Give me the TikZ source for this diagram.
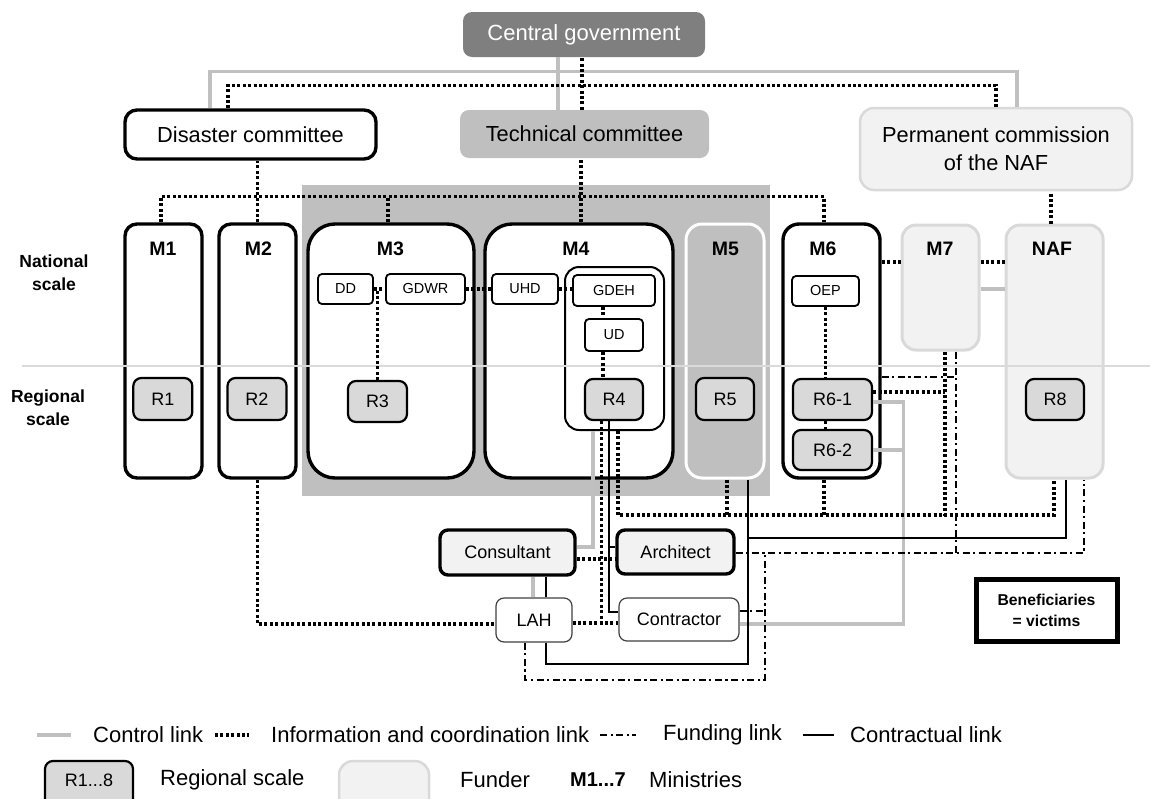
\documentclass[tikz,border=0pt]{standalone}
\usepackage{fontspec}
\setmainfont{Liberation Sans}
\usetikzlibrary{positioning}
\definecolor{cgfill}{HTML}{7F7F7F}
\definecolor{midgray}{HTML}{BFBFBF}
\definecolor{regionfill}{HTML}{D9D9D9}
\definecolor{funderfill}{HTML}{F2F2F2}
\definecolor{funderline}{HTML}{D9D9D9}
\definecolor{ctrlgray}{HTML}{C0C0C0}
\definecolor{scaleline}{HTML}{DADADA}
\tikzset{
    %Define box size
    boxsize/.style 2 args={minimum width=#1pt, minimum height=#2pt},
    %Define style for boxes
    committee/.style={
           rectangle,
           rounded corners=9pt,
           inner sep=0pt,
           align=center,
           font=\fontsize{21.8}{28}\selectfont},
    ministry/.style={
           rectangle,
           rounded corners=12pt,
           draw=black, line width=3.4pt,
           fill=white},
    funder/.style={
           rectangle,
           rounded corners=14pt,
           draw=funderline, line width=3pt,
           fill=funderfill},
    region/.style={
           rectangle,
           rounded corners=8pt,
           draw=black, line width=2.2pt,
           fill=regionfill,
           inner sep=0pt,
           font=\fontsize{18}{20}\selectfont},
    unit/.style={
           rectangle,
           rounded corners=4pt,
           draw=black, line width=1.8pt,
           fill=white,
           inner sep=0pt,
           font=\fontsize{14.5}{16}\selectfont},
    actor/.style={
           rectangle,
           rounded corners=8pt,
           draw=black, line width=3.4pt,
           fill=funderfill,
           inner sep=0pt,
           font=\fontsize{18}{20}\selectfont},
    agent/.style={
           rectangle,
           rounded corners=8pt,
           draw=black!75, line width=1.2pt,
           fill=white,
           inner sep=0pt,
           font=\fontsize{18}{20}\selectfont},
    mlabel/.style={font=\bfseries\fontsize{19.5}{20}\selectfont},
    scalelabel/.style={align=center, font=\bfseries\fontsize{17.5}{23}\selectfont},
    legend/.style={anchor=west, inner sep=0pt, font=\fontsize{22}{24}\selectfont},
    % Define link styles
    ctrl/.style={draw=ctrlgray, line width=3.5pt},
    info/.style={draw=black, line width=3.4pt, dash pattern=on 3pt off 2.4pt},
    funding/.style={draw=black, line width=2.2pt, dash pattern=on 7pt off 3.5pt on 2.2pt off 3.5pt},
    contract/.style={draw=black, line width=2pt}
}
\begin{document}
\begin{tikzpicture}[x=1pt, y=-1pt]
\useasboundingbox (0,0) rectangle (1150,798);
\clip (0,0) rectangle (1150,798);

 %backdrop
\fill[midgray] (302,185) rectangle (770,496);

 %committees
\node[committee, fill=cgfill, text=white, boxsize={242}{45}, font=\fontsize{22}{26}\selectfont] (cg) at (584,34.5) {Central government};
\node[committee, draw=black, line width=3.4pt, fill=white, rounded corners=12pt, boxsize={251}{49}] (dc) at (250.5,134.5) {Disaster committee};
\node[committee, fill=midgray, boxsize={249}{48}] (tc) at (584.5,134) {Technical committee};
\node[committee, funder, line width=2.5pt, boxsize={272}{82}] (pc) at (996,149) {Permanent commission\\of the NAF};

 %ministries
\node[ministry, boxsize={77}{254}] (m1) at (163.5,351) {};
\node[ministry, boxsize={77}{254}] (m2) at (257.5,351) {};
\node[ministry, rounded corners=27pt, boxsize={166}{254}] (m3) at (391,351) {};
\node[ministry, rounded corners=27pt, boxsize={188}{254}] (m4) at (579,351) {};
\node[ministry, draw=white, line width=3pt, fill=midgray, rounded corners=16pt, boxsize={78}{254}] (m5) at (725,351) {};
\node[ministry, rounded corners=16pt, boxsize={97}{254}] (m6) at (831.5,351) {};
\node[funder, boxsize={77}{125}] (m7) at (940.5,287.5) {};
\node[funder, boxsize={97}{253}] (naf) at (1054.5,351.5) {};
\node[ministry, line width=2pt, rounded corners=14pt, boxsize={99}{163}] (m4in) at (614.5,348.5) {};

\node[mlabel] (m1lab) at (163,249) {M1};
\node[mlabel] (m2lab) at (258.5,249) {M2};
\node[mlabel] (m3lab) at (390.5,249) {M3};
\node[mlabel] (m4lab) at (576,249) {M4};
\node[mlabel] (m5lab) at (725.5,249) {M5};
\node[mlabel] (m6lab) at (823,249) {M6};
\node[mlabel] (m7lab) at (940,249) {M7};
\node[mlabel] (naflab) at (1052,249) {NAF};

\node[scalelabel] (natl) at (54,273) {National\\scale};
\node[scalelabel] (regl) at (48,408) {Regional\\scale};
\draw[draw=scaleline, line width=1.2pt] (22,366) -- (1150,366);

 %departments
\node[unit, boxsize={55}{30}] (dd) at (345.5,289) {DD};
\node[unit, boxsize={79}{30}] (gdwr) at (425.5,289) {GDWR};
\node[unit, boxsize={66}{30}] (uhd) at (525,289) {UHD};
\node[unit, boxsize={82}{31}] (gdeh) at (614,290.5) {GDEH};
\node[unit, boxsize={58}{32}] (ud) at (614,335) {UD};
\node[unit, boxsize={67}{30}] (oep) at (825.5,291) {OEP};

 %regional services
\node[region, boxsize={59}{42}] (r1) at (162.8,399) {R1};
\node[region, boxsize={59}{42}] (r2) at (257,399) {R2};
\node[region, boxsize={59}{41}] (r3) at (377.5,401.5) {R3};
\node[region, boxsize={58}{41}] (r4) at (614,399.5) {R4};
\node[region, boxsize={58}{42}] (r5) at (725,399) {R5};
\node[region, boxsize={79}{41}] (r61) at (832.5,399.5) {R6-1};
\node[region, boxsize={79}{40}] (r62) at (832.5,450) {R6-2};
\node[region, boxsize={58}{41}] (r8) at (1055,399.5) {R8};

 %local actors
\node[actor, boxsize={135}{45}] (cons) at (507.5,552.5) {Consultant};
\node[actor, boxsize={117}{44}] (arch) at (675.5,552) {Architect};
\node[agent, boxsize={76}{44}] (lah) at (534,620) {LAH};
\node[agent, boxsize={120}{43}] (contr) at (679,619.5) {Contractor};
\node[draw=black, line width=5pt, boxsize={141}{62}, align=center, font=\bfseries\fontsize{15.7}{21}\selectfont] (benef) at (1046.5,610) {Beneficiaries\\= victims};

\coordinate (m5k) at ([xshift=23]m5.south);
\coordinate (r4k) at ([xshift=-5]r4.south);
\coordinate (m7i) at ([xshift=4.5]m7.south);
\coordinate (m7f) at ([xshift=15.5]m7.south);
\coordinate (lahi) at ([yshift=-3]lah.east);

 %control links
\draw[ctrl] ([xshift=-26.5]tc.north) -- ([xshift=-26.5]tc.north |- cg.south);
\draw[ctrl] ([xshift=-40.5]dc.north) -- ++(0,-37) -| ([xshift=21]pc.north);
\draw[ctrl] ([yshift=-1.5]m7.east) -- ([yshift=-1.5]m7.east -| naf.west);
\draw[ctrl] ([yshift=-2.5]r61.east) -- ++(30.5,0) coordinate (ctrlv) |- ([yshift=-4.5]contr.east);
\draw[ctrl] (r62.east) -- (r62.east -| ctrlv);
\draw[ctrl] ([yshift=5.5]cons.east) -| ([xshift=-21.5]m4in.south);
\draw[ctrl] ([xshift=-1]lah.north) -- ([xshift=-1]lah.north |- cons.south);

 %information links
\draw[info] ([xshift=-22.5]dc.north) -- ++(0,-23) -| (pc.north);
\draw[info] ([xshift=-2.5]tc.north) -- ([xshift=-2.5]tc.north |- cg.south);
\draw[info] ([xshift=-2.5]m1.north) -- ++(0,-26) -| ([xshift=-7.5]m6.north);
\draw[info] ([xshift=-3]m3.north) -- ++(0,-26);
\draw[info] (m2.north) -- (m2.north |- dc.south);
\draw[info] ([xshift=2]m4.north) -- ([xshift=2]m4.north |- tc.south);
\draw[info] ([xshift=-3.5]naf.north) -- ([xshift=-3.5]naf.north |- pc.south);
\draw[info] (dd.east) -- (gdwr.west);
\draw[info] (r3.north) -- (r3.north |- dd.east);
\draw[info] (gdwr.east) -- (uhd.west);
\draw[info] (uhd.east) -- (uhd.east -| gdeh.west);
\draw[info] ([xshift=-11]gdeh.south) -- ([xshift=-11]ud.north);
\draw[info] ([xshift=-11]ud.south) -- ([xshift=-11]r4.north);
\draw[info] ([xshift=-12.5]r4.south) -- ([xshift=-12.5]r4.south |- lahi);
\draw[info] (lahi) -- (lahi -| contr.west);
\draw[info] (m2.south) |- ([yshift=-4]lah.west);
\draw[info] ([yshift=-6.5]cons.east) -- ([yshift=-6.5]cons.east -| arch.west);
\draw[info] ([xshift=3.5]m4in.south) -- ++(0,84) -| ([xshift=-0.5]naf.south);
\draw[info] ([xshift=2]m5.south) -- ++(0,36);
\draw[info] ([xshift=-7.5]m6.south) -- ++(0,36);
\draw[info] (m7i) -- ++(0,164);
\draw[info] ([yshift=7.5]r61.east) -- ([yshift=7.5]r61.east -| m7i);
\draw[info] (oep.south) -- (oep.south |- r61.north);
\draw[info] ([xshift=-7]r61.south) -- ([xshift=-7]r62.north);
\draw[info] ([yshift=89]m6.east) -- ([yshift=89]m6.east -| m7.west);
\draw[info] ([yshift=25.5]m7.east) -- ([yshift=25.5]m7.east -| naf.west);

 %funding links
\draw[funding] (m7f) -- ++(0,203);
\draw[funding] ([yshift=-26]m6.east) -- ([yshift=-26]m6.east -| m7f);
\draw[funding] ([yshift=-1]arch.east) -| ([xshift=29.5]naf.south);
\draw[funding] ([xshift=-9]lah.south) -- ++(0,37) -| ([xshift=29,yshift=-1]arch.east);
\draw[funding] ([yshift=8.5]contr.east) -- ++(24,0);

 %contractual links
\draw[contract] (r4k) |- ([yshift=7.5]contr.west);
\draw[contract] ([yshift=5]arch.west) -- ([yshift=5]arch.west -| r4k);
\draw[contract] ([xshift=12]lah.south) -- ++(0,21) -| (m5k);
\draw[contract] ([xshift=11.5]naf.south) |- ([yshift=-58]m5k);
\draw[contract] ([yshift=8.5]contr.east) -- ([yshift=8.5]contr.east -| m5k);
\draw[contract] ([xshift=12]lah.north) -- ([xshift=12]lah.north |- cons.south);

 %legend
\node[legend] (lgctrl) at (93,735) {Control link};
\draw[ctrl] ([xshift=-56]lgctrl.west) -- ([xshift=-22]lgctrl.west);
\node[legend] (lginfo) at (271,735) {Information and coordination link};
\draw[info] ([xshift=-56]lginfo.west) -- ([xshift=-22]lginfo.west);
\node[legend] (lgfund) at (663,735) {Funding link};
\draw[funding] ([xshift=-63]lgfund.west) -- ([xshift=-27]lgfund.west);
\node[legend] (lgcontr) at (850,735) {Contractual link};
\draw[contract] ([xshift=-47]lgcontr.west) -- ([xshift=-16]lgcontr.west);

\node[region, boxsize={88}{60}] (lgr) at (89,791) {};
\node[font=\fontsize{18}{20}\selectfont] (lgrtxt) at (89,780) {R1...8};
\node[legend] (lgreg) at (160,780) {Regional scale};
\node[funder, line width=2.5pt, boxsize={90}{60}] (lgf) at (384,791) {};
\node[legend] (lgfun) at (460,780) {Funder};
\node[legend, font=\bfseries\fontsize{20}{24}\selectfont] (lgm) at (570,780) {M1...7};
\node[legend] (lgmin) at (649,780) {Ministries};
\end{tikzpicture}
\end{document}
